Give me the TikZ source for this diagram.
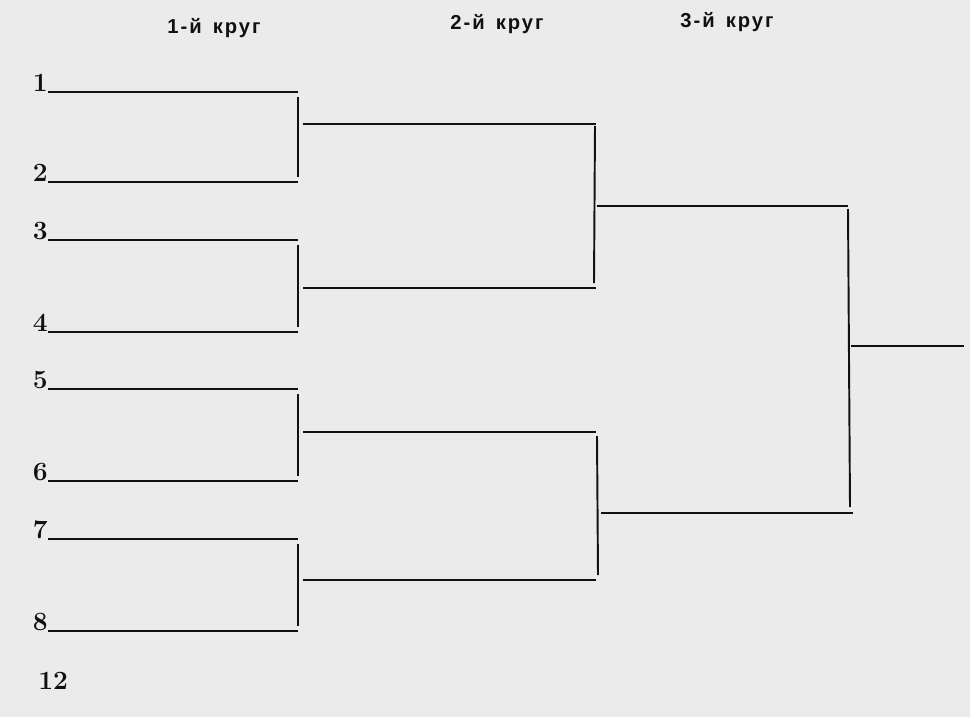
\documentclass[tikz,border=0pt]{standalone}
\usepackage{fontspec}
\usepackage{tikz}
\newfontfamily\hdfont[LetterSpace=10]{Liberation Sans}
\definecolor{paper}{HTML}{EBEBEB}
\definecolor{ink}{HTML}{111111}

\begin{document}
\begin{tikzpicture}[x=0.02cm, y=-0.02cm,
    hline/.style={line width=1.4pt, ink},
    vline/.style={line width=1.1pt, ink},
    num/.style={font=\bfseries\fontsize{15}{15}\selectfont, anchor=south east, inner sep=0pt, ink},
    head/.style={font=\hdfont\bfseries\fontsize{11.5}{11.5}\selectfont, ink}]
    % Paper
    \fill[paper] (0,0) rectangle (970,717);

    % Round headers
    \node[head] (h1) at (214,28) {1-й \,круг};
    \node[head] (h2) at (497,24) {2-й \,круг};
    \node[head] (h3) at (727,22) {3-й \,круг};

    % First round - players
    \foreach \n/\y in {1/92, 2/182, 3/240, 4/332, 5/389, 6/481, 7/539, 8/631} {
      \node[num] (p\n) at (48,\y) {\n};
      \coordinate (e\n) at (298,\y);
      \draw[hline] (p\n.south east) -- (e\n);
    }

    % First round - pairs joined, winners go on
    \foreach \m/\a/\b/\y in {1/1/2/124, 2/3/4/288, 3/5/6/432, 4/7/8/580} {
      \coordinate (t\m) at ([yshift=-0.1cm]e\a);
      \coordinate (u\m) at ([yshift=0.1cm]e\b);
      \draw[vline] (t\m) -- (u\m);
      \coordinate (s\m) at (303,\y);
      \coordinate (f\m) at (596,\y);
      \draw[hline] (s\m) -- (f\m);
    }

    % Second round
    \coordinate (q1) at (597,206);
    \coordinate (r1) at (848,206);
    \coordinate (q2) at (601,513);
    \coordinate (r2) at (853,513);
    \draw[vline] ([xshift=-0.02cm,yshift=-0.04cm]f1) -- (594,283);
    \draw[vline] ([xshift=0.02cm,yshift=-0.08cm]f3) -- (598,575);
    \draw[hline] (q1) -- (r1);
    \draw[hline] (q2) -- (r2);

    % Third round
    \coordinate (g) at (851,346);
    \coordinate (w) at (964,346);
    \draw[vline] ([yshift=-0.06cm]r1) -- (850,507);
    \draw[hline] (g) -- (w);

    % Page number
    \node[num, anchor=base west] (pg) at (38,689) {12};
  \end{tikzpicture}
\end{document}
